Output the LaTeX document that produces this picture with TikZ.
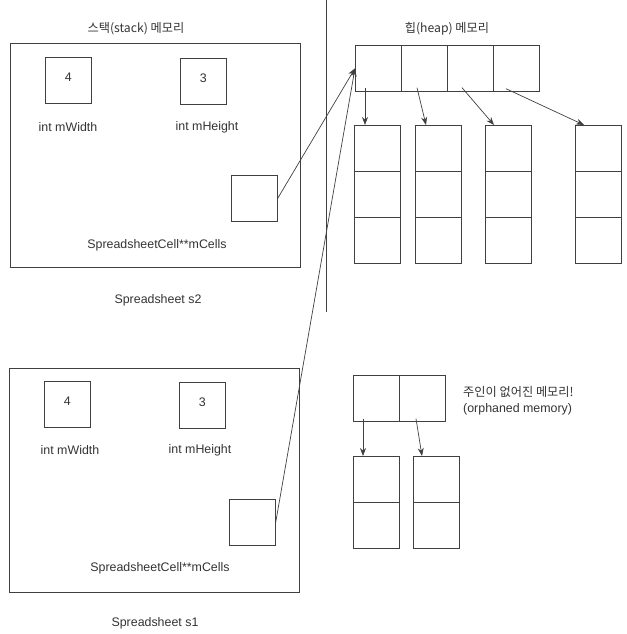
\documentclass[tikz,border=0pt]{standalone}
\usepackage{fontspec}
\setmainfont{Liberation Sans}
\newfontfamily\kr{Noto Sans CJK KR}
\usetikzlibrary{arrows.meta}
\tikzset{
  ln/.style={draw=black!75, line width=0.7pt},
  cellbox/.style={ln, rectangle, inner sep=0pt, minimum width=46pt, minimum height=46pt, anchor=north west},
  outerbox/.style={ln, rectangle, inner sep=0pt, minimum width=290pt, minimum height=224pt, anchor=north west},
  txt/.style={text=black!80, font=\fontsize{12.4}{14}\selectfont, inner sep=0pt},
  krtxt/.style={text=black!80, font=\kr\fontsize{12.2}{14}\selectfont, inner sep=0pt},
  arr/.style={draw=black!75, line width=0.7pt, -{Stealth[length=8pt,width=6pt]}}
}
\begin{document}
\begin{tikzpicture}[x=1pt,y=-1pt]
\useasboundingbox (0,0) rectangle (626,634);

% divider
\coordinate (vtop) at (326,0);
\coordinate (vbot) at (326,312);
\draw[ln] (vtop) -- (vbot);

% titles
\node[krtxt] (stacktitle) at (136,29) {스택(stack) 메모리};
\node[krtxt] (heaptitle) at (447,29) {힙(heap) 메모리};

% ---- Spreadsheet s2 ----
\node[outerbox] (s2) at (10,43) {};
\node[cellbox] (w2) at (45,57) {};
\node[txt] (w2v) at ([yshift=3.5pt]w2.center) {4};
\node[cellbox] (h2b) at (180,58) {};
\node[txt] (h2v) at ([yshift=3.5pt]h2b.center) {3};
\node[txt] (w2l) at (68,127) {int mWidth};
\node[txt] (h2l) at (207,127) {int mHeight};
\node[cellbox] (p2) at (231,175) {};
\node[txt] (m2l) at (157,245) {SpreadsheetCell**mCells};
\node[txt] (s2l) at (158,300) {Spreadsheet s2};

% ---- Spreadsheet s1 ----
\node[outerbox] (s1) at (9,368) {};
\node[cellbox] (w1) at (44,381) {};
\node[txt] (w1v) at ([yshift=3.5pt]w1.center) {4};
\node[cellbox] (h1b) at (179,382) {};
\node[txt] (h1v) at ([yshift=3.5pt]h1b.center) {3};
\node[txt] (w1l) at (70,450) {int mWidth};
\node[txt] (h1l) at (200,450) {int mHeight};
\node[cellbox] (p1) at (229,499) {};
\node[txt] (m1l) at (160,568) {SpreadsheetCell**mCells};
\node[txt] (s1l) at (155,623) {Spreadsheet s1};

% ---- heap ----
\node[cellbox] (hp1) at (355,45) {};
\node[cellbox] (hp2) at (401,45) {};
\node[cellbox] (hp3) at (447,45) {};
\node[cellbox] (hp4) at (493,45) {};
\foreach \i/\x in {1/354,2/415,3/485,4/575}{
  \node[cellbox] (c\i1) at (\x,125) {};
  \node[cellbox] (c\i2) at (\x,171) {};
  \node[cellbox] (c\i3) at (\x,217) {};
}
\draw[arr] ([shift={(10pt,4pt)}]hp1.south west) -- ([xshift=11pt]c11.north west);
\draw[arr] ([shift={(16pt,4pt)}]hp2.south west) -- ([xshift=11pt]c21.north west);
\draw[arr] ([shift={(15pt,4pt)}]hp3.south west) -- ([xshift=9pt]c31.north west);
\draw[arr] ([shift={(13pt,3pt)}]hp4.south west) -- ([xshift=9pt]c41.north west);

% pointers from stack to heap
\draw[arr] (p2.east) -- (hp1.west);
\draw[arr] (p1.east) -- (hp1.west);

% ---- orphaned ----
\node[cellbox] (o1) at (353,375) {};
\node[cellbox] (o2) at (399,375) {};
\node[cellbox] (d11) at (353,456) {};
\node[cellbox] (d12) at (353,502) {};
\node[cellbox] (d21) at (413,456) {};
\node[cellbox] (d22) at (413,502) {};
\draw[arr] ([shift={(10pt,3pt)}]o1.south west) -- ([xshift=10pt]d11.north west);
\draw[arr] ([shift={(17pt,3pt)}]o2.south west) -- ([xshift=9pt]d21.north west);
\node[krtxt, anchor=west] (orph1) at (463,392) {주인이 없어진 메모리!};
\node[txt, anchor=west] (orph2) at (463,409) {(orphaned memory)};
\end{tikzpicture}
\end{document}
